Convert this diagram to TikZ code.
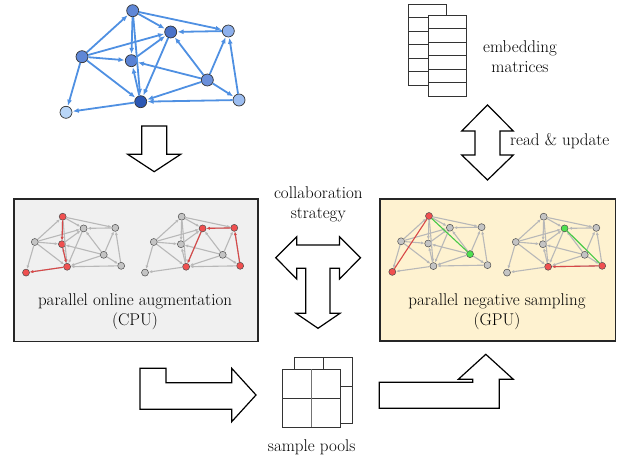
\documentclass[tikz,border=0pt]{standalone}
\usetikzlibrary{arrows.meta}
\definecolor{linkblue}{HTML}{4F90E2}
\definecolor{cpubg}{HTML}{F0F0F0}
\definecolor{gpubg}{HTML}{FEF2D0}
\definecolor{hlred}{HTML}{F05050}
\definecolor{hlgreen}{HTML}{4FE04F}
\definecolor{edgegray}{HTML}{B8B8B8}
\definecolor{vgray}{HTML}{C4C4C4}
\definecolor{blueA}{HTML}{5F87D6}
\definecolor{blueB}{HTML}{4A73C9}
\definecolor{blueC}{HTML}{8DB0EC}
\definecolor{blueD}{HTML}{5F87D6}
\definecolor{blueE}{HTML}{5A82D4}
\definecolor{blueF}{HTML}{6A8FDA}
\definecolor{blueG}{HTML}{2C58B4}
\definecolor{blueH}{HTML}{9CBDF0}
\definecolor{blueI}{HTML}{B9D6F7}
\tikzset{
  nA/.style={}, nB/.style={}, nC/.style={}, nD/.style={}, nE/.style={},
  nF/.style={}, nG/.style={}, nH/.style={}, nI/.style={},
  bigvertex/.style={circle, draw=black!80, line width=0.7pt, minimum size=12pt, inner sep=0pt},
  biglink/.style={draw=linkblue, line width=1.8pt, -{Latex[length=6pt,width=5pt]}, shorten >=0.5pt},
  smallvertex/.style={circle, draw=black!70, line width=0.5pt, fill=vgray, minimum size=7pt, inner sep=0pt},
  smalllink/.style={draw=edgegray, line width=1.1pt, -{Latex[length=3.5pt,width=3pt]}},
  redvertex/.style={fill=hlred},
  greenvertex/.style={fill=hlgreen},
  redlink/.style={draw=hlred!90!black, line width=1.1pt, -{Latex[length=3.5pt,width=3pt]}},
  redline/.style={draw=hlred!90!black, line width=1.1pt},
  greenline/.style={draw=hlgreen!90!black, line width=1.1pt},
  blockarrow/.style={draw=black, line width=1.2pt, fill=white, line join=miter},
  panel/.style={draw=black!85, line width=1.2pt},
  cell/.style={draw=black!80, line width=0.9pt, fill=white},
  label/.style={font=\fontsize{17}{20}\selectfont, align=center, inner sep=0pt},
}
% one graph: prefix, position of vertex A, scale, vertex style, link style, local options
\newcommand\drawnet[6]{%
  \begin{scope}[shift={#2}, scale=#3, #6]
    \node[#4, nA] (#1A) at (0,0) {};
    \node[#4, nB] (#1B) at (38,21.3) {};
    \node[#4, nC] (#1C) at (95.6,20.3) {};
    \node[#4, nD] (#1D) at (-50.7,46) {};
    \node[#4, nE] (#1E) at (-1.4,50) {};
    \node[#4, nF] (#1F) at (74.6,69.3) {};
    \node[#4, nG] (#1G) at (8,91) {};
    \node[#4, nH] (#1H) at (106.3,89.3) {};
    \node[#4, nI] (#1I) at (-66.7,101.6) {};
    \foreach \s/\t in {A/B,A/C,A/E,A/G,D/A,D/B,D/E,D/G,D/I,E/B,G/E,B/G,C/B,
                       F/B,F/E,F/C,F/H,F/G,H/C,H/G,G/I}
      {\draw[#5] (#1\s) -- (#1\t);}
  \end{scope}}
\begin{document}
\begin{tikzpicture}[x=1pt, y=-1pt]
\useasboundingbox (0,0) rectangle (639,460);

% input graph
\drawnet{g}{(132.7,10.7)}{1}{bigvertex}{biglink}{%
  nA/.style={fill=blueA}, nB/.style={fill=blueB}, nC/.style={fill=blueC},
  nD/.style={fill=blueD}, nE/.style={fill=blueE}, nF/.style={fill=blueF},
  nG/.style={fill=blueG}, nH/.style={fill=blueH}, nI/.style={fill=blueI}}

% embedding matrices
\draw[cell] (408.3,4) rectangle (446,85);
\foreach \r in {1,...,5} \draw[cell] (408.3,4+13.5*\r) -- (446,4+13.5*\r);
\draw[cell] (428.3,15) rectangle (466,96);
\foreach \r in {1,...,5} \draw[cell] (428.3,15+13.5*\r) -- (466,15+13.5*\r);
\node[label] (emb) at (520,57) {embedding\\matrices};

% panels
\draw[panel, fill=cpubg] (14,199) rectangle (258,341.5);
\draw[panel, fill=gpubg] (380,199) rectangle (615.5,341);
\node[label] (cpu) at (135,312) {parallel online augmentation\\(CPU)};
\node[label] (gpu) at (497,312) {parallel negative sampling\\(GPU)};

% random walks on CPU
\drawnet{a}{(62.7,216.7)}{0.55}{smallvertex}{smalllink}{%
  nA/.style={redvertex}, nE/.style={redvertex}, nG/.style={redvertex}, nI/.style={redvertex}}
\draw[redlink] (aA) -- (aE);
\draw[redlink] (aE) -- (aG);
\draw[redlink] (aG) -- (aI);
\drawnet{b}{(181.7,216.7)}{0.55}{smallvertex}{smalllink}{%
  nB/.style={redvertex}, nC/.style={redvertex}, nG/.style={redvertex}, nH/.style={redvertex}}
\draw[redlink] (bH) -- (bC);
\draw[redlink] (bC) -- (bB);
\draw[redlink] (bB) -- (bG);

% negative samples on GPU
\drawnet{c}{(429,216)}{0.55}{smallvertex}{smalllink}{%
  nA/.style={redvertex}, nI/.style={redvertex}, nF/.style={greenvertex}}
\draw[redline] (cA) -- (cI);
\draw[greenline] (cA) -- (cF);
\drawnet{d}{(543.7,216.7)}{0.55}{smallvertex}{smalllink}{%
  nB/.style={greenvertex}, nG/.style={redvertex}, nH/.style={redvertex}}
\draw[greenline] (dB) -- (dH);
\draw[redlink] (dH) -- (dG);

% sample pools
\draw[cell] (294.3,357.3) rectangle (352.3,423.3);
\draw[cell] (323.3,357.3) -- (323.3,423.3);
\draw[cell] (294.3,386.7) -- (352.3,386.7);
\draw[cell] (282.7,369.3) rectangle (340,427.3);
\draw[cell] (282.7,398.3) -- (340,398.3);
\draw[draw=black!55, line width=0.9pt] (311.5,369.3) -- (311.5,427.3);
\node[label] (pools) at (311.7,447) {sample pools};

\node[label] (collab) at (318.3,204) {collaboration\\strategy};
\node[label, anchor=west] (rw) at (510,141.5) {read \& update};

% block arrows
\draw[blockarrow] (141.7,126) -- (166.7,126) -- (166.7,154.3) -- (180.7,154.3)
  -- (154.2,171.7) -- (127.7,154.3) -- (141.7,154.3) -- cycle;
\draw[blockarrow] (487.5,105) -- (513.3,131) -- (500,131) -- (500,155) -- (513.3,155)
  -- (487.5,180) -- (461.7,155) -- (475,155) -- (475,131) -- (461.7,131) -- cycle;
\draw[blockarrow] (275.7,257.7) -- (296.7,236.7) -- (296.7,245) -- (339.5,245)
  -- (339.5,236.7) -- (360.5,257.7) -- (339.5,279) -- (339.5,268.3) -- (330,268.3)
  -- (330,313.3) -- (340,313.3) -- (318,328.3) -- (296,313.3) -- (305.7,313.3)
  -- (305.7,268.3) -- (296.7,268.3) -- (296.7,279) -- cycle;
\draw[blockarrow] (140,368.3) -- (166,368.3) -- (166,382.7) -- (231.7,382.7)
  -- (231.7,368.3) -- (256,395) -- (231.7,421.7) -- (231.7,409.3) -- (140,409.3) -- cycle;
\draw[blockarrow] (379.3,382.3) -- (472.7,382.3) -- (472.7,379.3) -- (458.3,379.3)
  -- (485.8,354.3) -- (513.3,379.3) -- (499.3,379.3) -- (499.3,408.3) -- (379.3,408.3) -- cycle;
\end{tikzpicture}
\end{document}
